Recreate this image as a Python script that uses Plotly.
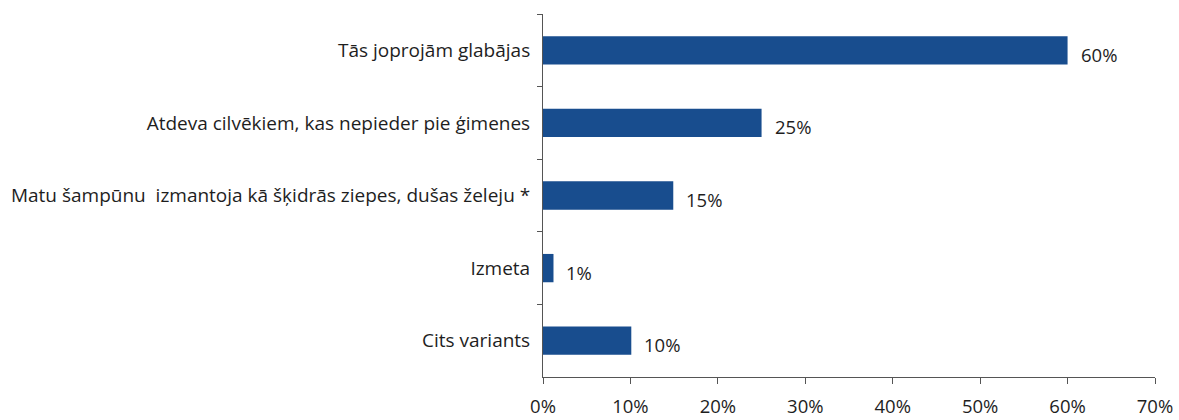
import plotly.graph_objects as go

categories = [
    "Tās joprojām glabājas",
    "Atdeva cilvēkiem, kas nepieder pie ģimenes",
    "Matu šampūnu  izmantoja kā šķidrās ziepes, dušas želeju *",
    "Izmeta",
    "Cits variants",
]
values = [60, 25, 14.9, 1.2, 10.1]
value_labels = ["60%", "25%", "15%", "1%", "10%"]
tick_vals = [0, 10, 20, 30, 40, 50, 60, 70]
tick_text = ["0%", "10%", "20%", "30%", "40%", "50%", "60%", "70%"]

FONT = "'Open Sans', 'Noto Sans', sans-serif"
TXT = "#1e1e1e"
FS = 19

fig = go.Figure(
    go.Bar(
        x=values,
        y=categories,
        orientation="h",
        marker=dict(color="#184d8e", line=dict(width=0)),
        width=0.39,
        hoverinfo="skip",
    )
)

for v, c, t in zip(values, categories, value_labels):
    fig.add_annotation(
        x=v, y=c, text=t, xanchor="left", yanchor="middle",
        xshift=11, yshift=-4, showarrow=False,
        font=dict(family=FONT, size=18.5, color=TXT),
    )

fig.update_layout(
    width=1179,
    height=420,
    margin=dict(l=543, r=24, t=14, b=43),
    paper_bgcolor="white",
    plot_bgcolor="white",
    showlegend=False,
    font=dict(family=FONT, size=FS, color=TXT),
)
fig.update_xaxes(
    range=[0, 70],
    tickvals=tick_vals,
    ticktext=tick_text,
    showgrid=False,
    zeroline=False,
    showline=True,
    linecolor="#555555",
    linewidth=1,
    ticks="outside",
    ticklen=6,
    tickcolor="#555555",
    tickfont=dict(family=FONT, size=18.5, color=TXT),
    ticklabelstandoff=7,
    automargin=False,
)
fig.update_yaxes(
    autorange="reversed",
    showgrid=False,
    showline=True,
    linecolor="#555555",
    linewidth=1,
    ticks="outside",
    tickson="boundaries",
    ticklen=5,
    tickcolor="#555555",
    tickfont=dict(family=FONT, size=FS, color=TXT),
    ticklabelstandoff=8,
    automargin=False,
)

fig.write_html(
    "out.html",
    config={"displayModeBar": False},
    post_script="document.body.style.margin='0';document.body.style.overflow='hidden';",
)
